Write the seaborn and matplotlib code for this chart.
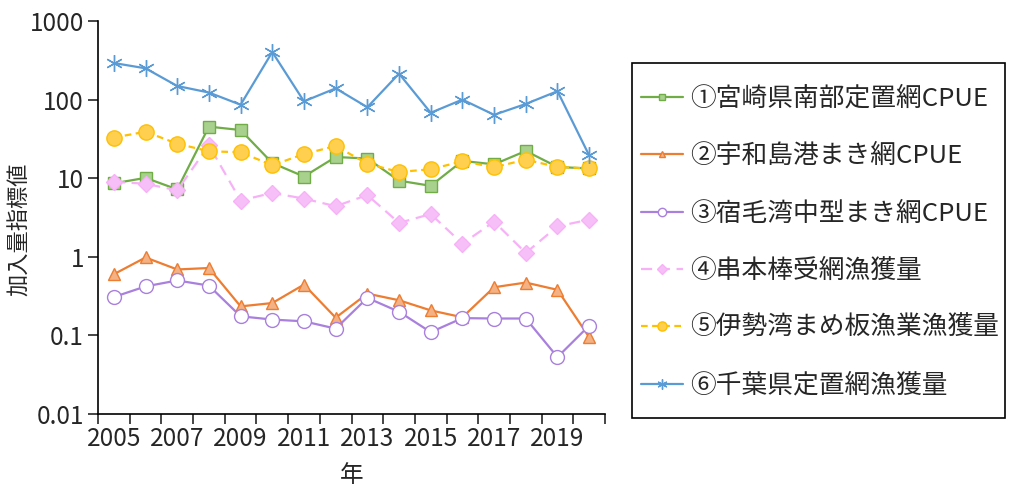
import numpy as np
import pandas as pd
import matplotlib.pyplot as plt
import seaborn as sns
from matplotlib.patches import Rectangle

# Data
years = list(range(2005, 2021))
miyazaki = [8.6, 10.1, 7.2, 45.3, 41.0, 15.6, 10.5, 18.6, 17.8, 9.3, 8.0, 16.6, 15.0, 22.2, 13.9, 13.3]
uwajima = [0.60, 0.98, 0.69, 0.72, 0.234, 0.258, 0.443, 0.168, 0.34, 0.28, 0.208, 0.17, 0.41, 0.47, 0.38, 0.095]
sukumo = [0.308, 0.42, 0.50, 0.43, 0.175, 0.159, 0.151, 0.122, 0.30, 0.20, 0.11, 0.166, 0.164, 0.164, 0.053, 0.133]
kushimoto = [9.0, 8.5, 7.0, 26.2, 5.2, 6.5, 5.5, 4.4, 6.1, 2.7, 3.5, 1.47, 2.8, 1.12, 2.44, 2.97]
isewan = [32.9, 39.0, 27.5, 22.0, 21.4, 14.6, 20.3, 25.7, 15.3, 12.0, 13.0, 16.4, 13.8, 17.2, 13.9, 13.3]
chiba = [292, 250, 149, 123, 86, 403, 95, 139, 80, 214, 68, 100, 64, 88, 128, 19.5]

labels = ['①宮崎県南部定置網CPUE', '②宇和島港まき網CPUE', '③宿毛湾中型まき網CPUE',
          '④串本棒受網漁獲量', '⑤伊勢湾まめ板漁業漁獲量', '⑥千葉県定置網漁獲量']
series = [miyazaki, uwajima, sukumo, kushimoto, isewan, chiba]

# line colour, marker, marker face, linestyle, marker size
styles = [
    ('#70AD47', 's', '#A9D18E', '-', 8),
    ('#ED7D31', '^', '#F4B183', '-', 8),
    ('#A980DE', 'o', 'white', '-', 10),
    ('#F7B2F7', 'D', '#F7BFF7', (0, (5, 3)), 8),
    ('#FFC000', 'o', '#FFD04F', (0, (3, 2)), 11),
    ('#5B9BD5', (6, 2, 0), '#5B9BD5', '-', 12),
]

sns.set_style('ticks')
plt.rcParams['font.family'] = ['Noto Sans CJK JP', 'DejaVu Sans']

fig = plt.figure(figsize=(10.12, 4.91), dpi=100)
ax = fig.add_axes([98 / 1012, 1 - 414 / 491, (605 - 98) / 1012, (414 - 21) / 491])

for vals, lab, (col, mk, mfc, ls, ms) in zip(series, labels, styles):
    sns.lineplot(x=years, y=vals, ax=ax, color=col, marker=mk, markersize=ms,
                 markerfacecolor=mfc, markeredgecolor=col, markeredgewidth=1.0,
                 linestyle=ls, linewidth=1.6, label=lab)

ax.set_yscale('log')
ax.set_ylim(0.01, 1000)
yt = [0.01, 0.1, 1, 10, 100, 1000]
ax.set_yticks(yt)
ax.set_yticklabels(['0.01', '0.1', '1', '10', '100', '1000'])
ax.yaxis.set_minor_locator(plt.NullLocator())

ax.set_xlim(2004.5, 2020.5)
ax.set_xticks(years[::2])
ax.set_xticklabels([str(y) for y in years[::2]])
ax.set_xticks(np.arange(2004.5, 2021, 1), minor=True)
ax.tick_params(axis='x', which='major', length=0, labelsize=17.5, pad=9)
ax.tick_params(axis='x', which='minor', length=7, width=1.2, direction='out')
ax.tick_params(axis='y', which='major', length=7, width=1.2, labelsize=17.5, pad=3)

for s in ['top', 'right']:
    ax.spines[s].set_visible(False)
for s in ['left', 'bottom']:
    ax.spines[s].set_linewidth(1.2)
    ax.spines[s].set_color('black')

ax.set_xlabel('年', fontsize=17, va='center')
ax.xaxis.set_label_coords(0.5, (414 - 476) / 393)
ax.set_ylabel('加入量指標値', fontsize=16, va='center')
ax.yaxis.set_label_coords((20 - 98) / 507, 0.47)

# legend frame drawn as a separate box, legend placed inside
fig.patches.append(Rectangle((632 / 1012, 1 - 418 / 491), (1005 - 632) / 1012, (418 - 63) / 491,
                             transform=fig.transFigure, fill=False, edgecolor='black',
                             linewidth=1.2))
ax.legend(loc='upper left', bbox_to_anchor=(641 / 1012, 1 - 86 / 491),
          bbox_transform=fig.transFigure, fontsize=18.5, frameon=False,
          handlelength=1.65, handletextpad=0.25, labelspacing=1.22, borderpad=0,
          borderaxespad=0, markerscale=0.6)

fig.savefig('out.png', dpi=100)
